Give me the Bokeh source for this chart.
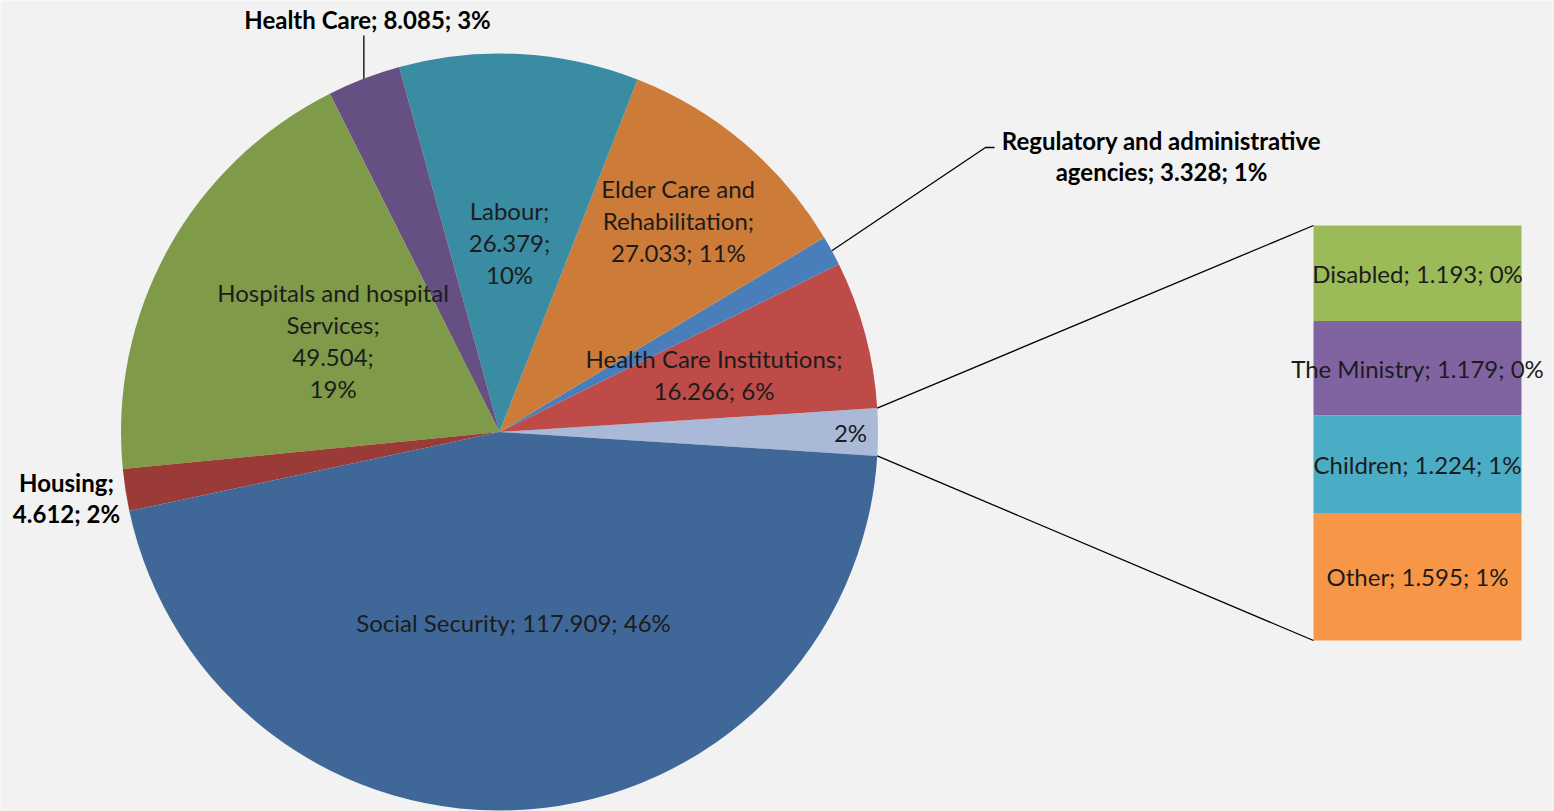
import numpy as np
from bokeh.plotting import figure
from bokeh.core.properties import value
from bokeh.embed import file_html
from bokeh.resources import INLINE

# ---------------- data ----------------
pie_names = ["Other", "Health Care Institutions", "Regulatory and administrative agencies",
             "Elder Care and Rehabilitation", "Labour", "Health Care",
             "Hospitals and hospital Services", "Housing", "Social Security"]
pie_values = [None, 16.266, 3.328, 27.033, 26.379, 8.085, 49.504, 4.612, 117.909]
pie_pcts = ["2%", "6%", "1%", "11%", "10%", "3%", "19%", "2%", "46%"]

bar_names = ["Disabled", "The Ministry", "Children", "Other"]
bar_values = [1.193, 1.179, 1.224, 1.595]
bar_pcts = ["0%", "0%", "1%", "1%"]

pie_colors = ["#A9B9D7", "#BE4B48", "#4A7EBB", "#CC7B38", "#3A8CA3",
              "#664F83", "#7F9A48", "#9B3B38", "#3F6899"]
bar_colors = ["#9BBB59", "#8064A2", "#4BACC6", "#F79646"]

pie_values[0] = sum(bar_values)
vals = np.array(pie_values, dtype=float)
fr = vals / vals.sum()

# ---------------- layout ----------------
IMG_W, IMG_H = 1554, 811
def Y(ry):
    return IMG_H - ry

CX, CY, R = 499.0, Y(431.5), 378.5
BX0, BX1, BTOP, BBOT = 1313.0, 1521.0, Y(225), Y(640)

FONT = value("Lato")
FS = "24px"
TXT = "#1C1C1C"

p = figure(width=IMG_W, height=IMG_H, x_range=(0, IMG_W), y_range=(0, IMG_H),
           output_backend="svg", toolbar_location=None, min_border=0,
           background_fill_color="#F2F2F2", border_fill_color="#F2F2F2",
           outline_line_color=None)
p.axis.visible = False
p.grid.visible = False

# pie wedges (anticlockwise, "Other" slice centred on 0 rad)
ang = 2 * np.pi * fr
starts = -ang[0] / 2 + np.concatenate([[0], np.cumsum(ang)[:-1]])
ends = starts + ang
mids = (starts + ends) / 2
p.wedge(x=[CX] * len(vals), y=[CY] * len(vals), radius=R,
        start_angle=list(starts), end_angle=list(ends), direction="anticlock",
        fill_color=pie_colors, line_color=None)

# bar of the grouped slice
scale = (BTOP - BBOT) / sum(bar_values)
cum = np.concatenate([[0], np.cumsum(bar_values)])
tops = [BTOP - c * scale for c in cum[:-1]]
bots = [BTOP - c * scale for c in cum[1:]]
p.quad(left=[BX0] * 4, right=[BX1] * 4, top=tops, bottom=bots,
       fill_color=bar_colors, line_color=None)

# connector lines
a_hi, a_lo = ends[0], starts[0]
p.line([CX + R * np.cos(a_hi), BX0], [CY + R * np.sin(a_hi), BTOP], line_color="black", line_width=1.3)
p.line([CX + R * np.cos(a_lo), BX0], [CY + R * np.sin(a_lo), BBOT], line_color="black", line_width=1.3)

def fmt(v):
    return f"{v:.3f}"

# inside labels
inside = {
    0: (351, ["{p}"]),
    1: (222, ["Health Care Institutions;", "{v}; {p}"]),
    3: (277, ["Elder Care and", "Rehabilitation;", "{v}; {p}"]),
    4: (190, ["Labour;", "{v};", "{p}"]),
    6: (190, ["Hospitals and hospital", "Services;", "{v};", "{p}"]),
    8: (191, ["Social Security; {v}; {p}"]),
}
xs, ys, ts = [], [], []
LH = 32
for i, (r, lines) in inside.items():
    lx = CX + r * np.cos(mids[i])
    ly = CY + r * np.sin(mids[i])
    n = len(lines)
    for k, ln in enumerate(lines):
        xs.append(lx)
        ys.append(ly - (k - (n - 1) / 2) * LH)
        ts.append(ln.format(v=fmt(vals[i]), p=pie_pcts[i]))
for j in range(4):
    xs.append((BX0 + BX1) / 2)
    ys.append((tops[j] + bots[j]) / 2)
    ts.append(f"{bar_names[j]}; {fmt(bar_values[j])}; {bar_pcts[j]}")
p.text(x=xs, y=ys, text=ts, text_font=FONT, text_font_size=FS, text_color=TXT,
       text_align="center", text_baseline="middle")

# outside (bold) labels with leaders
# Health Care
i = 5
ex, ey = CX + R * np.cos(mids[i]), CY + R * np.sin(mids[i])
p.line([ex, ex], [ey, Y(35)], line_color="black", line_width=1.3)
# Regulatory
i = 2
ex, ey = CX + R * np.cos(mids[i]), CY + R * np.sin(mids[i])
p.line([ex, 985, 994], [ey, Y(147), Y(147)], line_color="black", line_width=1.3)

bx = [367, 1161, 1161, 66, 66]
by = [Y(19), Y(140), Y(171), Y(482), Y(513)]
bt = [f"Health Care; {fmt(vals[5])}; {pie_pcts[5]}",
      "Regulatory and administrative", f"agencies; {fmt(vals[2])}; {pie_pcts[2]}",
      "Housing;", f"{fmt(vals[7])}; {pie_pcts[7]}"]
p.text(x=bx, y=by, text=bt, text_font=FONT, text_font_size=FS, text_color="black",
       text_font_style="bold", text_align="center", text_baseline="middle")

open("out.html", "w").write(file_html(p, INLINE))
